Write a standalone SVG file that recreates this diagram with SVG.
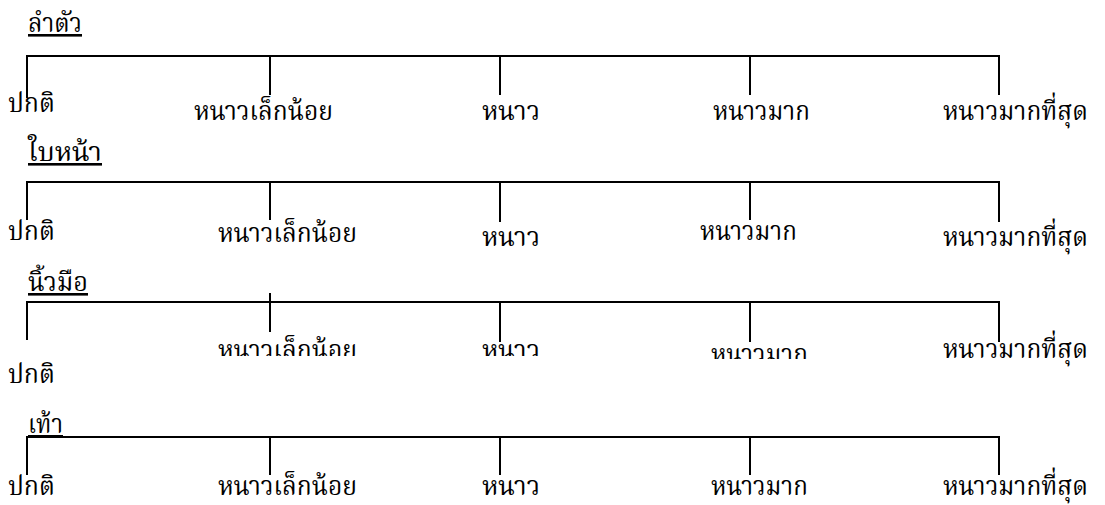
<svg xmlns="http://www.w3.org/2000/svg" width="1105" height="505" viewBox="0 0 1105 505">
<style>
text{font-family:"Liberation Serif","Noto Serif Thai","Noto Sans Thai","DejaVu Sans",serif;font-size:26px;fill:#000}
.t{text-decoration:underline}
.c line{stroke:#000;stroke-width:2}
</style>
<defs>
<clipPath id="clipA"><rect x="0" y="0" width="1105" height="356"/></clipPath>
<clipPath id="clipB"><rect x="0" y="0" width="1105" height="359"/></clipPath>
</defs>
<rect width="1105" height="505" fill="#fff"/>
<g class="c" id="connectors">
<line x1="27" y1="56" x2="1000" y2="56"/>
<line x1="27" y1="55" x2="27" y2="98"/>
<line x1="270" y1="56" x2="270" y2="95"/>
<line x1="500" y1="56" x2="500" y2="95"/>
<line x1="750" y1="56" x2="750" y2="95"/>
<line x1="999" y1="55" x2="999" y2="95"/>
<line x1="27" y1="182" x2="1000" y2="182"/>
<line x1="27" y1="181" x2="27" y2="220"/>
<line x1="270" y1="182" x2="270" y2="220"/>
<line x1="500" y1="182" x2="500" y2="222"/>
<line x1="750" y1="182" x2="750" y2="220"/>
<line x1="999" y1="181" x2="999" y2="222"/>
<line x1="27" y1="302" x2="1000" y2="302"/>
<line x1="27" y1="301" x2="27" y2="340"/>
<line x1="270" y1="293" x2="270" y2="332"/>
<line x1="500" y1="302" x2="500" y2="342"/>
<line x1="750" y1="302" x2="750" y2="342"/>
<line x1="999" y1="301" x2="999" y2="342"/>
<line x1="27" y1="437" x2="1000" y2="437"/>
<line x1="27" y1="436" x2="27" y2="475"/>
<line x1="270" y1="437" x2="270" y2="475"/>
<line x1="500" y1="437" x2="500" y2="475"/>
<line x1="750" y1="437" x2="750" y2="475"/>
<line x1="999" y1="436" x2="999" y2="475"/>
</g>
<g id="row1">
<text class="t" x="28" y="32" textLength="54" lengthAdjust="spacingAndGlyphs">ลำตัว</text>
<text x="8" y="112" textLength="47" lengthAdjust="spacingAndGlyphs">ปกติ</text>
<text x="194" y="120" textLength="139" lengthAdjust="spacingAndGlyphs">หนาวเล็กน้อย</text>
<text x="482" y="120" textLength="58" lengthAdjust="spacingAndGlyphs">หนาว</text>
<text x="713" y="120" textLength="97" lengthAdjust="spacingAndGlyphs">หนาวมาก</text>
<text x="943" y="120" textLength="145" lengthAdjust="spacingAndGlyphs">หนาวมากที่สุด</text>
</g>
<g id="row2">
<text class="t" x="28" y="161" textLength="74" lengthAdjust="spacingAndGlyphs">ใบหน้า</text>
<text x="8" y="240" textLength="47" lengthAdjust="spacingAndGlyphs">ปกติ</text>
<text x="218" y="242" textLength="139" lengthAdjust="spacingAndGlyphs">หนาวเล็กน้อย</text>
<text x="482" y="246" textLength="58" lengthAdjust="spacingAndGlyphs">หนาว</text>
<text x="700" y="240" textLength="97" lengthAdjust="spacingAndGlyphs">หนาวมาก</text>
<text x="943" y="246" textLength="145" lengthAdjust="spacingAndGlyphs">หนาวมากที่สุด</text>
</g>
<g id="row3">
<text class="t" x="28" y="291" textLength="60" lengthAdjust="spacingAndGlyphs">นิ้วมือ</text>
<text x="8" y="383" textLength="47" lengthAdjust="spacingAndGlyphs">ปกติ</text>
<g clip-path="url(#clipA)">
<text x="218" y="359" textLength="139" lengthAdjust="spacingAndGlyphs">หนาวเล็กน้อย</text>
<text x="482" y="359" textLength="58" lengthAdjust="spacingAndGlyphs">หนาว</text>
</g>
<g clip-path="url(#clipB)">
<text x="711" y="363" textLength="97" lengthAdjust="spacingAndGlyphs">หนาวมาก</text>
</g>
<text x="943" y="358" textLength="145" lengthAdjust="spacingAndGlyphs">หนาวมากที่สุด</text>
</g>
<g id="row4">
<text class="t" x="28" y="433" textLength="35" lengthAdjust="spacingAndGlyphs">เท้า</text>
<text x="8" y="495" textLength="47" lengthAdjust="spacingAndGlyphs">ปกติ</text>
<text x="218" y="495" textLength="139" lengthAdjust="spacingAndGlyphs">หนาวเล็กน้อย</text>
<text x="482" y="495" textLength="58" lengthAdjust="spacingAndGlyphs">หนาว</text>
<text x="711" y="495" textLength="97" lengthAdjust="spacingAndGlyphs">หนาวมาก</text>
<text x="943" y="495" textLength="145" lengthAdjust="spacingAndGlyphs">หนาวมากที่สุด</text>
</g>
</svg>
